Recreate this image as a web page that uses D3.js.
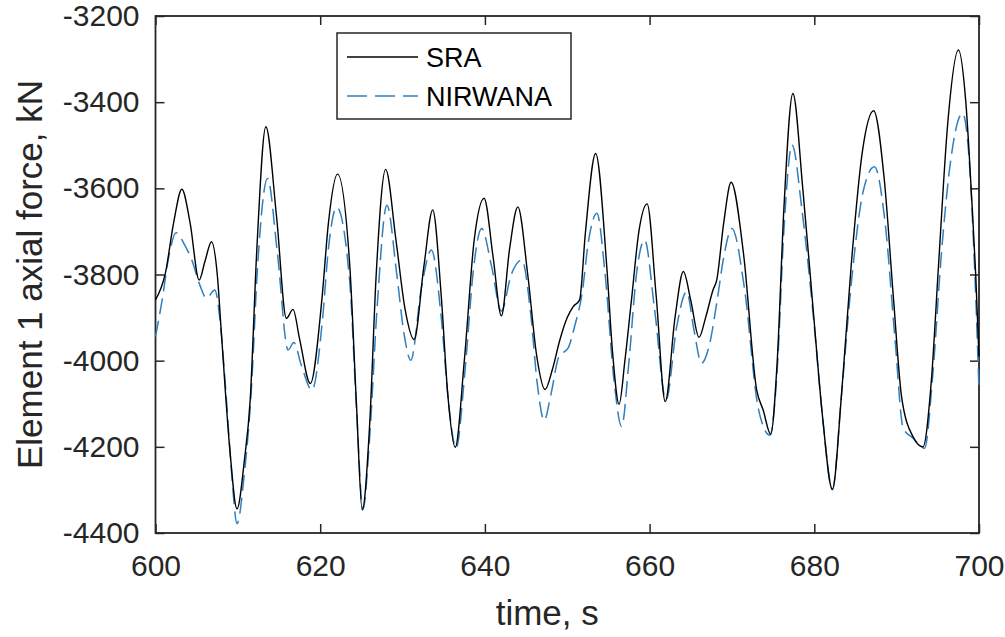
<!DOCTYPE html>
<html lang="en">
<meta charset="utf-8">

<!-- Load d3.js -->
<script src="https://d3js.org/d3.v7.min.js"></script>

<head>
    <style type="text/css">
        body {
            margin: 0;
            background: white;
        }

        .tick text {
            font-family: "Liberation Sans", Arial, sans-serif;
            font-size: 30px;
            fill: #262626;
        }

        .label {
            font-family: "Liberation Sans", Arial, sans-serif;
            font-size: 35px;
            fill: #262626;
        }

        .legend text {
            font-family: "Liberation Sans", Arial, sans-serif;
            font-size: 27px;
            fill: #000;
        }
    </style>
</head>

<body>
    <div id="my_dataviz"></div>

    <script>
        // SRA series (time in s, axial force in kN)
        const sraTime = [600.0, 601.2, 602.2, 603.2, 604.2, 605.3, 606.0, 606.8, 607.5, 608.0, 609.0, 609.9,
            610.8, 611.5, 612.3, 613.4, 614.7, 615.9, 616.7, 617.5, 618.8, 620.2, 621.0, 622.1, 623.6, 624.4,
            625.1, 626.0, 626.8, 627.95, 629.2, 630.3, 631.4, 632.6, 633.66, 634.7, 635.5, 636.4, 637.5, 638.7,
            639.9, 641.0, 642.0, 643.0, 644.0, 645.2, 646.3, 647.3, 648.2, 649.1, 650.0, 650.7, 651.5, 652.2,
            653.45, 654.8, 655.5, 656.3, 657.0, 657.8, 658.7, 659.7, 660.8, 661.9, 663.1, 664.1, 665.0, 666.0,
            666.8, 667.7, 668.15, 669.0, 669.9, 671.4, 673.0, 673.8, 674.7, 675.5, 676.3, 677.4, 678.6, 679.9,
            681.0, 682.2, 683.3, 684.5, 685.8, 687.2, 688.5, 689.6, 690.6, 692.0, 693.2, 694.2, 695.1, 696.2,
            697.5, 698.4, 699.1, 699.6, 700.0];
        const sraForce = [-3859, -3797, -3680, -3602, -3680, -3813, -3770, -3724, -3800, -3936, -4200, -4344,
            -4230, -4091, -3743, -3457, -3666, -3902, -3881, -3950, -4053, -3859, -3680, -3567, -3782, -4100,
            -4347, -4150, -3800, -3556, -3720, -3880, -3951, -3780, -3650, -3850, -4080, -4201, -4000, -3720,
            -3623, -3760, -3896, -3740, -3643, -3800, -3990, -4067, -4020, -3952, -3900, -3875, -3859, -3704,
            -3519, -3782, -3980, -4101, -4000, -3859, -3700, -3636, -3850, -4095, -3898, -3793, -3860, -3946,
            -3900, -3836, -3813, -3680, -3586, -3751, -4068, -4115, -4171, -4000, -3650, -3380, -3600, -3890,
            -4130, -4299, -4080, -3774, -3520, -3420, -3580, -3852, -4084, -4177, -4200, -4050, -3774, -3450,
            -3279, -3400, -3619, -3800, -3991];

        // NIRWANA series
        const nirTime = [600.0, 600.8, 601.6, 602.5, 603.5, 604.4, 605.3, 606.2, 607.2, 607.8, 608.5, 609.2,
            609.9, 610.8, 611.6, 612.4, 613.6, 614.8, 616.1, 616.8, 617.7, 619.0, 620.3, 621.0, 622.0, 623.6,
            624.4, 625.2, 626.0, 626.9, 628.1, 629.3, 630.2, 631.0, 632.3, 633.5, 634.7, 635.6, 636.5, 637.6,
            638.6, 639.6, 640.8, 642.0, 643.2, 644.5, 645.5, 646.4, 647.2, 648.0, 649.0, 650.1, 650.9, 651.8,
            652.6, 653.6, 654.6, 655.7, 656.6, 657.5, 658.4, 659.4, 660.6, 662.0, 663.3, 664.5, 665.4, 666.3,
            667.3, 668.2, 669.0, 670.0, 671.5, 673.2, 674.6, 675.5, 676.3, 677.3, 678.5, 679.9, 681.0, 682.2,
            683.3, 684.6, 685.9, 687.3, 688.6, 689.8, 690.8, 692.0, 693.4, 694.4, 695.4, 696.6, 698.0, 698.9,
            699.5, 700.0];
        const nirForce = [-3944, -3860, -3760, -3703, -3730, -3766, -3820, -3855, -3836, -3900, -4060, -4250,
            -4378, -4260, -4080, -3780, -3577, -3750, -3975, -3958, -4010, -4068, -3900, -3740, -3644, -3820,
            -4110, -4345, -4180, -3880, -3639, -3800, -3940, -3999, -3830, -3743, -3900, -4100, -4203, -4020,
            -3790, -3693, -3780, -3885, -3800, -3766, -3880, -4060, -4139, -4080, -3990, -3971, -3920, -3844,
            -3720, -3658, -3800, -4050, -4153, -4000, -3800, -3720, -3880, -4091, -3920, -3840, -3930, -4006,
            -3960, -3860, -3760, -3693, -3830, -4111, -4173, -4020, -3700, -3499, -3650, -3900, -4130, -4299,
            -4080, -3800, -3610, -3550, -3680, -3950, -4157, -4180, -4203, -4030, -3760, -3530, -3426, -3560,
            -3800, -4068];

        const seriesNames = ["SRA", "NIRWANA"];
        const xTicks = [600, 620, 640, 660, 680, 700];
        const yTicks = [-4400, -4200, -4000, -3800, -3600, -3400, -3200];

        // set the dimensions and margins of the graph
        const margin = { top: 16, right: 26, bottom: 104, left: 155.5 },
            width = 1005 - margin.left - margin.right,
            height = 637 - margin.top - margin.bottom;

        const axisColor = "#262626";

        const svg = d3.select("#my_dataviz")
            .append("svg")
            .attr("width", 1005)
            .attr("height", 637)
            .append("g")
            .attr("transform", `translate(${margin.left}, ${margin.top})`);

        const x = d3.scaleLinear()
            .domain([600, 700])
            .range([0, width]);

        const y = d3.scaleLinear()
            .domain([-4400, -3200])
            .range([height, 0]);

        // plain hyphen for negatives, like the original
        const fmt = d => String(d);

        // axes, ticks pointing inward like matlab
        function styleAxis(g) {
            g.select(".domain").remove();
            g.selectAll(".tick line").attr("stroke", axisColor).attr("stroke-width", 1.5);
        }

        svg.append("g")
            .attr("transform", `translate(0, ${height})`)
            .call(d3.axisBottom(x).tickValues(xTicks).tickSize(-9).tickPadding(22).tickFormat(fmt))
            .call(styleAxis);

        svg.append("g")
            .call(d3.axisTop(x).tickValues(xTicks).tickSize(-9).tickFormat(""))
            .call(styleAxis);

        svg.append("g")
            .call(d3.axisLeft(y).tickValues(yTicks).tickSize(-9).tickPadding(16).tickFormat(fmt))
            .call(styleAxis);

        svg.append("g")
            .attr("transform", `translate(${width}, 0)`)
            .call(d3.axisRight(y).tickValues(yTicks).tickSize(-9).tickFormat(""))
            .call(styleAxis);

        // box
        svg.append("rect")
            .attr("x", 0)
            .attr("y", 0)
            .attr("width", width)
            .attr("height", height)
            .attr("fill", "none")
            .attr("stroke", axisColor)
            .attr("stroke-width", 1.8);

        // lines
        const line = d3.line()
            .x(d => x(d[0]))
            .y(d => y(d[1]))
            .curve(d3.curveMonotoneX);

        const sraData = sraTime.map((t, i) => [t, sraForce[i]]);
        const nirData = nirTime.map((t, i) => [t, nirForce[i]]);

        svg.append("path")
            .datum(nirData)
            .attr("fill", "none")
            .attr("stroke", "#2f7fbf")
            .attr("stroke-width", 1.5)
            .attr("stroke-dasharray", "16,7")
            .attr("d", line);

        svg.append("path")
            .datum(sraData)
            .attr("fill", "none")
            .attr("stroke", "#000")
            .attr("stroke-width", 1.4)
            .attr("d", line);

        // axis labels
        svg.append("text")
            .attr("class", "label")
            .attr("x", width / 2 - 20)
            .attr("y", height + 92)
            .attr("text-anchor", "middle")
            .text("time, s");

        svg.append("text")
            .attr("class", "label")
            .attr("transform", `translate(${-margin.left + 42}, ${height / 2}) rotate(-90)`)
            .attr("text-anchor", "middle")
            .text("Element 1 axial force, kN");

        // legend
        const legend = svg.append("g")
            .attr("class", "legend")
            .attr("transform", `translate(${337 - margin.left}, ${33 - margin.top})`);

        legend.append("rect")
            .attr("width", 234)
            .attr("height", 86)
            .attr("fill", "white")
            .attr("stroke", axisColor)
            .attr("stroke-width", 1.5);

        const legendStyles = [
            { color: "#000", dash: null },
            { color: "#2f7fbf", dash: "20,8" }
        ];

        seriesNames.forEach((name, i) => {
            const ly = 24 + i * 39;
            legend.append("line")
                .attr("x1", 10)
                .attr("x2", 81)
                .attr("y1", ly)
                .attr("y2", ly)
                .attr("stroke", legendStyles[i].color)
                .attr("stroke-width", 1.5)
                .attr("stroke-dasharray", legendStyles[i].dash);
            legend.append("text")
                .attr("x", 89)
                .attr("y", ly)
                .attr("dy", "0.36em")
                .text(name);
        });
    </script>
</body>

</html>
